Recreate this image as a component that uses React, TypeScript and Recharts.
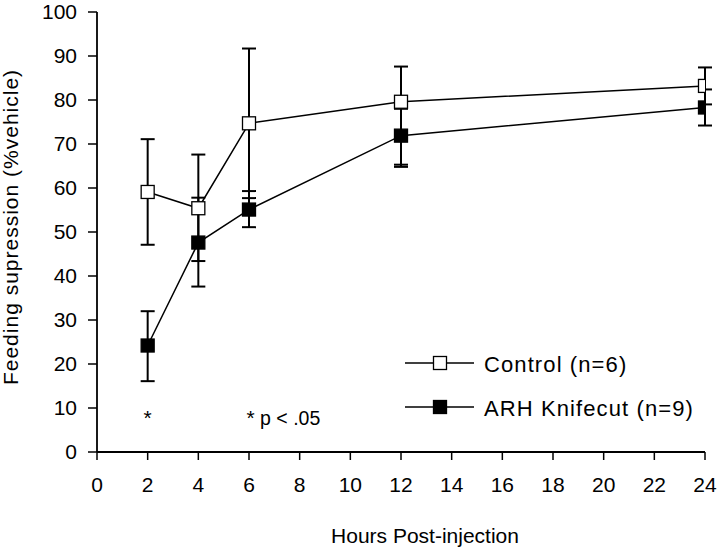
import React from 'react';
import {
  LineChart,
  Line,
  XAxis,
  YAxis,
  ErrorBar,
  Legend,
  Label,
  ReferenceDot,
} from 'recharts';

const hours = [2, 4, 6, 12, 24];
const controlMean = [59.1, 55.4, 74.7, 79.6, 83.2];
const controlErrLow = [12.0, 12.0, 17.0, 14.8, 4.2];
const controlErrHigh = [12.0, 12.2, 17.0, 8.0, 4.2];
const knifeMean = [24.2, 47.6, 55.1, 71.9, 78.3];
const knifeErrLow = [8.1, 10.0, 4.0, 6.6, 4.1];
const knifeErrHigh = [7.8, 10.2, 4.2, 6.1, 4.1];

const xTicks = [0, 2, 4, 6, 8, 10, 12, 14, 16, 18, 20, 22, 24];
const yTicks = [0, 10, 20, 30, 40, 50, 60, 70, 80, 90, 100];

const controlName = 'Control (n=6)';
const knifeName = 'ARH Knifecut (n=9)';
const xTitle = 'Hours Post-injection';
const yTitle = 'Feeding supression (%vehicle)';

const starMarks = [{ x: 2, y: 6.1 }];
const pNote = { x: 5.9, y: 6.1, star: '*', text: ' p < .05' };

const data = hours.map((h, i) => ({
  hour: h,
  control: controlMean[i],
  controlErr: [controlErrLow[i], controlErrHigh[i]],
  knife: knifeMean[i],
  knifeErr: [knifeErrLow[i], knifeErrHigh[i]],
}));

const FONT = '"Liberation Sans", Arial, Helvetica, sans-serif';
const SQ = 13;

const makeDot = (fill: string) => (props: any) => {
  const { cx, cy, index } = props;
  if (cx == null || cy == null) return <g key={`d-${index}`} />;
  return (
    <rect
      key={`d-${fill}-${index}`}
      x={cx - SQ / 2}
      y={cy - SQ / 2}
      width={SQ}
      height={SQ}
      fill={fill}
      stroke="#000"
      strokeWidth={1.3}
    />
  );
};

const XTitle = (props: any) => {
  const vb = props.viewBox || { x: 97, y: 452, width: 608, height: 60 };
  return (
    <text
      x={vb.x + vb.width / 2 + 24}
      y={vb.y + 91}
      textAnchor="middle"
      fontFamily={FONT}
      fontSize={21}
      fill="#000"
    >
      {xTitle}
    </text>
  );
};

const YTitle = () => {
  const cx = 17.5;
  const cy = 227;
  return (
    <text
      x={cx}
      y={cy}
      transform={`rotate(-90, ${cx}, ${cy})`}
      textAnchor="middle"
      fontFamily={FONT}
      fontSize={21}
      letterSpacing={1}
      fill="#000"
    >
      {yTitle}
    </text>
  );
};

const StarLabel = (props: any) => {
  const vb = props.viewBox || { x: 0, y: 0 };
  return (
    <text
      x={vb.x}
      y={vb.y}
      textAnchor="middle"
      fontFamily={FONT}
      fontSize={21}
      fill="#000"
    >
      *
    </text>
  );
};

const PNoteLabel = (props: any) => {
  const vb = props.viewBox || { x: 0, y: 0 };
  return (
    <text
      x={vb.x}
      y={vb.y}
      textAnchor="start"
      fontFamily={FONT}
      fontSize={21}
      fill="#000"
      style={{ whiteSpace: 'pre' }}
    >
      {pNote.star}
      <tspan fontSize={19.5}>{pNote.text}</tspan>
    </text>
  );
};

const LegendContent = () => {
  const rows = [
    { name: controlName, fill: '#fff' },
    { name: knifeName, fill: '#000' },
  ];
  return (
    <svg width={310} height={90} style={{ display: 'block', overflow: 'visible' }}>
      {rows.map((r, i) => {
        const cy = 23 + i * 44;
        return (
          <g key={r.name}>
            <line x1={5} y1={cy} x2={74} y2={cy} stroke="#000" strokeWidth={1.5} />
            <rect
              x={40 - SQ / 2}
              y={cy - SQ / 2}
              width={SQ}
              height={SQ}
              fill={r.fill}
              stroke="#000"
              strokeWidth={1.3}
            />
            <text
              x={84}
              y={cy + 8.5}
              fontFamily={FONT}
              fontSize={22}
              letterSpacing={1.1}
              fill="#000"
            >
              {r.name}
            </text>
          </g>
        );
      })}
    </svg>
  );
};

export default function App() {
  return (
    <div style={{ position: 'absolute', left: 0, top: 0, width: 720, height: 558, background: '#fff' }}>
      <LineChart
        width={720}
        height={558}
        data={data}
        margin={{ top: 12, right: 15, left: 0, bottom: 46 }}
      >
        <XAxis
          dataKey="hour"
          type="number"
          domain={[0, 24]}
          ticks={xTicks}
          interval={0}
          allowDataOverflow
          height={60}
          tickSize={8}
          tickMargin={17}
          axisLine={{ stroke: '#000', strokeWidth: 1.8 }}
          tickLine={{ stroke: '#000', strokeWidth: 1.5 }}
          tick={{ fill: '#000', fontSize: 21, fontFamily: FONT }}
        >
          <Label content={<XTitle />} />
        </XAxis>
        <YAxis
          type="number"
          domain={[0, 100]}
          ticks={yTicks}
          interval={0}
          allowDataOverflow
          width={97}
          tickSize={9}
          tickMargin={11}
          axisLine={{ stroke: '#000', strokeWidth: 1.8 }}
          tickLine={{ stroke: '#000', strokeWidth: 1.5 }}
          tick={{ fill: '#000', fontSize: 21, fontFamily: FONT }}
        >
          <Label content={<YTitle />} />
        </YAxis>
        {/* error bars first, so that markers sit on top of them */}
        <Line
          dataKey="knife"
          stroke="none"
          legendType="none"
          isAnimationActive={false}
          dot={false}
          activeDot={false}
        >
          <ErrorBar dataKey="knifeErr" width={7} strokeWidth={2} stroke="#000" direction="y" />
        </Line>
        <Line
          dataKey="control"
          stroke="none"
          legendType="none"
          isAnimationActive={false}
          dot={false}
          activeDot={false}
        >
          <ErrorBar dataKey="controlErr" width={7} strokeWidth={2} stroke="#000" direction="y" />
        </Line>
        <Line
          dataKey="knife"
          name={knifeName}
          stroke="#000"
          strokeWidth={1.5}
          isAnimationActive={false}
          dot={makeDot('#000')}
          activeDot={false}
        />
        <Line
          dataKey="control"
          name={controlName}
          stroke="#000"
          strokeWidth={1.5}
          isAnimationActive={false}
          dot={makeDot('#fff')}
          activeDot={false}
        />
        {starMarks.map((s, i) => (
          <ReferenceDot
            key={`star-${i}`}
            x={s.x}
            y={s.y}
            r={0}
            fill="none"
            stroke="none"
            label={<StarLabel />}
          />
        ))}
        <ReferenceDot
          x={pNote.x}
          y={pNote.y}
          r={0}
          fill="none"
          stroke="none"
          label={<PNoteLabel />}
        />
        <Legend
          layout="horizontal"
          verticalAlign="middle"
          align="center"
          content={<LegendContent />}
          wrapperStyle={{ left: 400, top: 340, width: 310, height: 90 }}
        />
      </LineChart>
    </div>
  );
}
